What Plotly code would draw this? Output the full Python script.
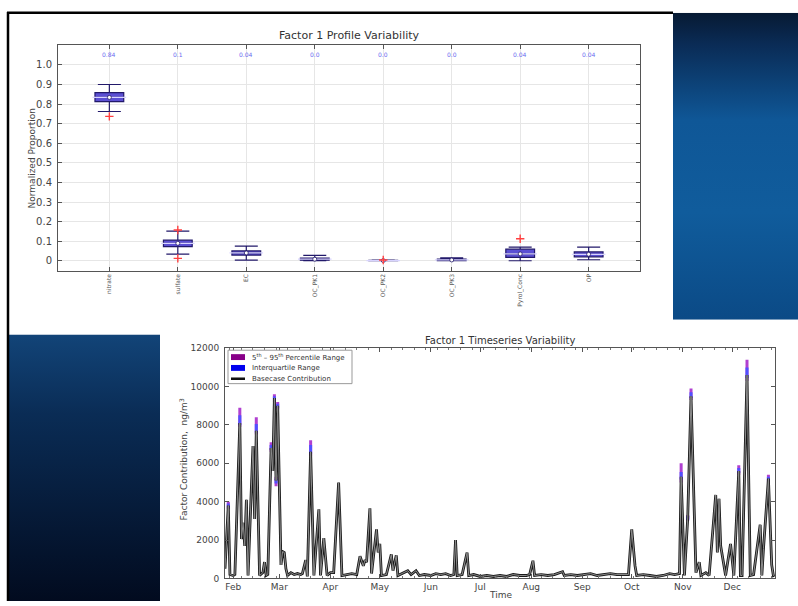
import base64
import plotly.graph_objects as go

# ---------------- Profile (box) data ----------------
categories = ["nitrate", "sulfate", "EC", "OC_PK1", "OC_PK2", "OC_PK3", "Pyrol_Conc", "OP"]
q1_vals = [0.813, 0.072, 0.029, 0.003, 0.000, 0.001, 0.017, 0.020]
median_vals = [0.834, 0.089, 0.040, 0.008, 0.001, 0.004, 0.035, 0.033]
q3_vals = [0.858, 0.105, 0.050, 0.014, 0.002, 0.008, 0.059, 0.045]
low_whisker = [0.762, 0.034, 0.003, 0.000, 0.000, 0.000, 0.000, 0.005]
high_whisker = [0.900, 0.151, 0.075, 0.027, 0.003, 0.015, 0.070, 0.070]
outlier_cats = ["nitrate", "sulfate", "sulfate", "OC_PK2", "Pyrol_Conc"]
outlier_vals = [0.737, 0.157, 0.012, 0.004, 0.112]
top_labels = ["0.84", "0.1", "0.04", "0.0", "0.0", "0.0", "0.04", "0.04"]
prof_yticks = [0, 0.1, 0.2, 0.3, 0.4, 0.5, 0.6, 0.7, 0.8, 0.9, 1.0]
prof_yticktext = ["0", "0.1", "0.2", "0.3", "0.4", "0.5", "0.6", "0.7", "0.8", "0.9", "1.0"]

# ---------------- Timeseries data ----------------
ts_dates = [
    "2011-01-27", "2011-01-29", "2011-01-30", "2011-02-01", "2011-02-02", "2011-02-05",
    "2011-02-06", "2011-02-07", "2011-02-08", "2011-02-09", "2011-02-10", "2011-02-13",
    "2011-02-14", "2011-02-15", "2011-02-17", "2011-02-19", "2011-02-20", "2011-02-21",
    "2011-02-22", "2011-02-24", "2011-02-25", "2011-02-26", "2011-02-27", "2011-02-28",
    "2011-03-02", "2011-03-03", "2011-03-04", "2011-03-05", "2011-03-06", "2011-03-08",
    "2011-03-10", "2011-03-12", "2011-03-14", "2011-03-15", "2011-03-17", "2011-03-18",
    "2011-03-20", "2011-03-22", "2011-03-25", "2011-03-26", "2011-03-28", "2011-03-30",
    "2011-04-01", "2011-04-03", "2011-04-06", "2011-04-08", "2011-04-11", "2011-04-14",
    "2011-04-17", "2011-04-19", "2011-04-21", "2011-04-22", "2011-04-23", "2011-04-25",
    "2011-04-26", "2011-04-29", "2011-04-30", "2011-05-01", "2011-05-02", "2011-05-05",
    "2011-05-08", "2011-05-09", "2011-05-11", "2011-05-12", "2011-05-18", "2011-05-20",
    "2011-05-23", "2011-05-25", "2011-05-28", "2011-06-01", "2011-06-04", "2011-06-07",
    "2011-06-10", "2011-06-13", "2011-06-15", "2011-06-16", "2011-06-17", "2011-06-20",
    "2011-06-23", "2011-06-24", "2011-06-27", "2011-07-01", "2011-07-05", "2011-07-09",
    "2011-07-13", "2011-07-17", "2011-07-21", "2011-07-25", "2011-07-29", "2011-07-31",
    "2011-08-02", "2011-08-03", "2011-08-07", "2011-08-11", "2011-08-15", "2011-08-20",
    "2011-08-21", "2011-08-25", "2011-08-29", "2011-09-02", "2011-09-06", "2011-09-10",
    "2011-09-14", "2011-09-18", "2011-09-22", "2011-09-26", "2011-09-29", "2011-10-01",
    "2011-10-03", "2011-10-04", "2011-10-08", "2011-10-12", "2011-10-16", "2011-10-20",
    "2011-10-24", "2011-10-27", "2011-10-30", "2011-10-31", "2011-11-02", "2011-11-04",
    "2011-11-06", "2011-11-09", "2011-11-11", "2011-11-12", "2011-11-15", "2011-11-17",
    "2011-11-21", "2011-11-22", "2011-11-23", "2011-11-24", "2011-11-27", "2011-11-30",
    "2011-12-02", "2011-12-05", "2011-12-06", "2011-12-07", "2011-12-10", "2011-12-12",
    "2011-12-14", "2011-12-18", "2011-12-19", "2011-12-20", "2011-12-23", "2011-12-25",
    "2011-12-26", "2011-12-27",
]
ts_base = [
    500, 3800, 200, 150, 200, 8100,
    2050, 2900, 1700, 4100, 150, 6900,
    3100, 7700, 150, 300, 850, 150,
    200, 6800, 5600, 9400, 5100, 9000,
    700, 1400, 1350, 500, 150, 300,
    200, 250, 200, 250, 950, 100,
    6600, 150, 3600, 150, 2100, 150,
    300, 300, 5000, 150, 200, 250,
    200, 1150, 650, 950, 850, 3650,
    250, 2550, 1350, 1800, 150, 200,
    1250, 400, 1200, 150, 400, 200,
    400, 150, 200, 150, 250, 200,
    250, 150, 200, 2000, 150, 200,
    1350, 150, 200, 100, 150, 100,
    150, 100, 200, 150, 150, 200,
    920, 150, 200, 150, 200, 350,
    150, 200, 150, 200, 250, 150,
    200, 250, 200, 200, 200, 2550,
    650, 150, 200, 150, 100, 150,
    250, 200, 250, 5300, 150, 3150,
    9500, 300, 850, 150, 300, 150,
    4350, 1350, 4150, 1700, 150, 1800,
    150, 5600, 150, 150, 10600, 150,
    200, 2800, 150, 1550, 5200, 700,
    150, 200,
]

# uncertainty ranges at the peaks where they are visible
band_dates = ["2011-01-29", "2011-02-05", "2011-02-15", "2011-02-24", "2011-02-26",
              "2011-02-27", "2011-02-28", "2011-03-20", "2011-10-31", "2011-11-04",
              "2011-11-06", "2011-12-05", "2011-12-10", "2011-12-23"]
band_p5 = [3600, 7900, 7500, 6600, 9200, 4800, 8800, 6400, 5000, 3000, 9300, 5400, 10300, 5000]
band_p95 = [4000, 8900, 8400, 7100, 9600, 5300, 9200, 7200, 6000, 3300, 9900, 5900, 11400, 5400]
band_q1 = [3700, 8000, 7600, 6700, 9300, 4950, 8900, 6500, 5150, 3050, 9400, 5500, 10450, 5100]
band_q3 = [3900, 8500, 8050, 6950, 9500, 5200, 9100, 6950, 5550, 3250, 9700, 5750, 11000, 5300]

ts_yticks = [0, 2000, 4000, 6000, 8000, 10000, 12000]
ts_yticktext = ["0", "2000", "4000", "6000", "8000", "10000", "12000"]

legend_labels = ["5<sup>th</sup> – 95<sup>th</sup> Percentile Range", "Interquartile Range",
                 "Basecase Contribution"]
legend_colors = ["#880088", "#0000ee", "#111111"]

FONT = "DejaVu Sans"
W, H = 798, 606


def px_x(px):
    return px / W


def px_y(py):
    return 1 - py / H


def gradient_uri(stops):
    st = "".join(f'<stop offset="{o}" stop-color="{c}"/>' for o, c in stops)
    svg = (f'<svg xmlns="http://www.w3.org/2000/svg" width="100" height="100" preserveAspectRatio="none">'
           f'<defs><linearGradient id="g" x1="0" y1="0" x2="0" y2="1">{st}</linearGradient></defs>'
           f'<rect width="100" height="100" fill="url(#g)"/></svg>')
    return "data:image/svg+xml;base64," + base64.b64encode(svg.encode()).decode()


fig = go.Figure()

# ---- Profile boxes ----
fig.add_trace(go.Box(
    x=categories, q1=q1_vals, median=median_vals, q3=q3_vals,
    lowerfence=low_whisker, upperfence=high_whisker,
    width=0.42, whiskerwidth=0.8,
    fillcolor="#5b4fd3", line=dict(color="#22196a", width=1.2),
    boxpoints=False, showlegend=False, hoverinfo="skip",
    xaxis="x", yaxis="y",
))
fig.add_trace(go.Scatter(
    x=categories, y=median_vals, mode="markers",
    marker=dict(symbol="line-ew", size=24, line=dict(color="#d8d4ff", width=1.2)),
    showlegend=False, hoverinfo="skip", xaxis="x", yaxis="y",
))
fig.add_trace(go.Scatter(
    x=categories, y=median_vals, mode="markers",
    marker=dict(symbol="circle", size=4, color="white", line=dict(color="#22196a", width=0.8)),
    showlegend=False, hoverinfo="skip", xaxis="x", yaxis="y",
))
fig.add_trace(go.Scatter(
    x=outlier_cats, y=outlier_vals, mode="markers",
    marker=dict(symbol="cross-thin", size=6, line=dict(color="#ff4040", width=1.4)),
    showlegend=False, hoverinfo="skip", xaxis="x", yaxis="y",
))
for c, t in zip(categories, top_labels):
    fig.add_annotation(x=c, y=1.055, xref="x", yref="y", text=t, showarrow=False,
                       xanchor="center", yanchor="middle",
                       font=dict(size=6, color="#6a6af0", family=FONT))

# ---- Timeseries ----
seg_x, seg_y = [], []
for d, lo, hi in zip(band_dates, band_p5, band_p95):
    seg_x += [d, d, None]
    seg_y += [lo, hi, None]
fig.add_trace(go.Scatter(x=seg_x, y=seg_y, mode="lines", line=dict(color="#b040d0", width=3),
                         name="5th - 95th Percentile Range", showlegend=False, hoverinfo="skip",
                         xaxis="x2", yaxis="y2"))
seg_x, seg_y = [], []
for d, lo, hi in zip(band_dates, band_q1, band_q3):
    seg_x += [d, d, None]
    seg_y += [lo, hi, None]
fig.add_trace(go.Scatter(x=seg_x, y=seg_y, mode="lines", line=dict(color="#5050ff", width=3),
                         name="Interquartile Range", showlegend=False, hoverinfo="skip",
                         xaxis="x2", yaxis="y2"))

fig.add_trace(go.Scatter(x=ts_dates, y=ts_base, mode="lines",
                         line=dict(color="#1a1a1a", width=2.8),
                         name="Basecase Contribution", showlegend=False, xaxis="x2", yaxis="y2"))
fig.add_trace(go.Scatter(x=ts_dates, y=ts_base, mode="lines",
                         line=dict(color="#8c8c8c", width=1.0),
                         showlegend=False, hoverinfo="skip", xaxis="x2", yaxis="y2"))

axis_common = dict(showline=True, linecolor="#555555", linewidth=1, mirror="ticks",
                   ticks="inside", tickcolor="#555555", ticklen=4, zeroline=False)

fig.update_layout(
    width=W, height=H, autosize=False,
    margin=dict(l=0, r=0, t=0, b=0),
    paper_bgcolor="white", plot_bgcolor="white",
    font=dict(family=FONT, color="#333333"),
    showlegend=False,
    xaxis=dict(domain=[px_x(58), px_x(640)], anchor="y", type="category",
               categoryorder="array", categoryarray=categories,
               range=[-0.75, 7.75], tickangle=-90,
               tickfont=dict(size=6, color="#555555"),
               showgrid=True, gridcolor="#e6e6e6", **axis_common),
    yaxis=dict(domain=[px_y(270), px_y(41)], anchor="x", range=[-0.05, 1.1],
               tickvals=prof_yticks, ticktext=prof_yticktext,
               tickfont=dict(size=10, color="#444444"), ticklabelstandoff=3,
               showgrid=True, gridcolor="#e6e6e6", **axis_common),
    xaxis2=dict(domain=[px_x(225), px_x(775)], anchor="y2", type="date",
                range=["2011-01-27", "2011-12-27"], dtick="M1", tickformat="%b",
                tick0="2011-02-01",
                tickfont=dict(size=9, color="#444444"), showgrid=False,
                minor=dict(ticks="inside", dtick=7 * 86400000, ticklen=2, tickcolor="#777777"),
                **axis_common),
    yaxis2=dict(domain=[px_y(583), px_y(349)], anchor="x2", range=[0, 12000],
                tickvals=ts_yticks, ticktext=ts_yticktext,
                tickfont=dict(size=9, color="#444444"), ticklabelstandoff=3,
                showgrid=False, **axis_common),
)

# manual legend (box, patches, labels)
fig.add_shape(type="rect", xref="paper", yref="paper", x0=px_x(228), x1=px_x(352),
              y0=px_y(385), y1=px_y(351), line=dict(color="#999999", width=1), fillcolor="white")
for i, (lab, col) in enumerate(zip(legend_labels, legend_colors)):
    yc = 358 + i * 11
    if i < 2:
        fig.add_shape(type="rect", xref="paper", yref="paper", x0=px_x(231), x1=px_x(245),
                      y0=px_y(yc + 3), y1=px_y(yc - 3), line=dict(width=0), fillcolor=col)
    else:
        fig.add_shape(type="line", xref="paper", yref="paper", x0=px_x(231), x1=px_x(245),
                      y0=px_y(yc), y1=px_y(yc), line=dict(color=col, width=2.5))
    fig.add_annotation(x=px_x(250), y=px_y(yc), xref="paper", yref="paper", text=lab,
                       xanchor="left", yanchor="middle", showarrow=False,
                       font=dict(size=7, color="#333333", family=FONT))


# titles and axis labels
def label(px, py, text, size, angle=0, color="#444444"):
    fig.add_annotation(x=px_x(px), y=px_y(py), xref="paper", yref="paper", text=text,
                       textangle=angle, xanchor="center", yanchor="middle", showarrow=False,
                       font=dict(size=size, color=color, family=FONT))


label(349, 31, "Factor 1 Profile Variability", 11, color="#333333")
label(32, 156, "Normalized Proportion", 9, angle=-90)
label(500, 341, "Factor 1 Timeseries Variability", 10, color="#333333")
label(184, 462, "Factor Contribution,  ng/m<sup>3</sup>", 9, angle=-90)
label(500, 600, "Time", 9)

# slide decoration: blue panels and black frame lines
fig.add_layout_image(dict(
    source=gradient_uri([(0, "#071a33"), (0.1, "#0a2b55"), (0.35, "#0f5797"),
                         (0.65, "#105c9c"), (1, "#0b4a86")]),
    xref="paper", yref="paper", x=px_x(673), y=px_y(8), sizex=px_x(798) - px_x(673),
    sizey=px_y(8) - px_y(320), sizing="stretch", layer="below", xanchor="left", yanchor="top"))
fig.add_layout_image(dict(
    source=gradient_uri([(0, "#124478"), (0.3, "#0a2c55"), (1, "#020b1f")]),
    xref="paper", yref="paper", x=px_x(9), y=px_y(335), sizex=px_x(160) - px_x(9),
    sizey=px_y(335) - px_y(606), sizing="stretch", layer="below", xanchor="left", yanchor="top"))
fig.add_shape(type="line", xref="paper", yref="paper", x0=px_x(7), x1=px_x(673),
              y0=px_y(8), y1=px_y(8), line=dict(color="black", width=2.5))
fig.add_shape(type="line", xref="paper", yref="paper", x0=px_x(8), x1=px_x(8),
              y0=px_y(7), y1=px_y(606), line=dict(color="black", width=2.5))

fig.write_html("out.html", config={"displayModeBar": False},
               post_script="document.body.style.margin='0px';")
